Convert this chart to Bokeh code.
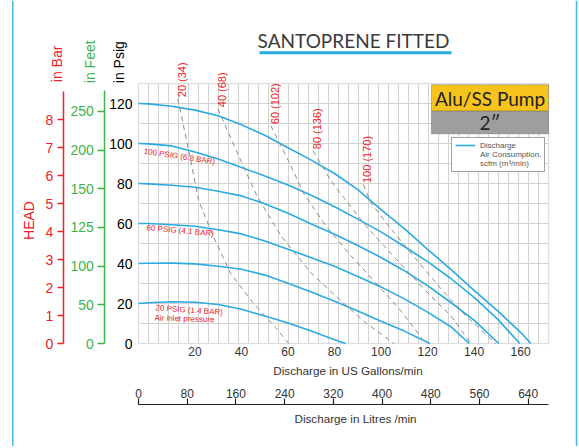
from bokeh.plotting import figure
from bokeh.models import (Range1d, LinearAxis, FixedTicker, SingleIntervalTicker,
                          Label, BoxAnnotation, Legend, LegendItem, Span)
from bokeh.embed import file_html
from bokeh.resources import INLINE

# ---------------- data (US gpm, head in psig) ----------------
flow_120 = [-4.3, 0, 10, 20, 30, 40, 50, 60, 70, 80, 90, 100, 110, 120, 130, 140, 150, 160, 164.4]
head_120 = [120.0, 119.8, 118.6, 116.7, 113.9, 109.4, 104.1, 97.9, 91.7, 85.0, 76.9, 66.9, 57.4, 47.1, 37.1, 26.6, 16.4, 5.6, 0]
flow_100 = [-4.3, 0, 10, 20, 30, 40, 50, 60, 70, 80, 90, 100, 110, 120, 130, 140, 150, 159.7]
head_100 = [100.0, 99.8, 98.8, 95.7, 92.2, 88.0, 83.8, 79.3, 74.1, 68.4, 62.2, 55.8, 48.5, 40.9, 32.5, 23.1, 12.3, 0]
flow_80 = [-4.3, 0, 10, 20, 30, 40, 50, 60, 70, 80, 90, 100, 110, 120, 130, 140, 150.6]
head_80 = [80.0, 79.8, 79.1, 78.1, 76.1, 73.8, 69.9, 65.1, 59.8, 54.6, 49.0, 43.0, 36.4, 28.9, 20.5, 11.7, 0]
flow_60 = [-4.3, 0, 10, 20, 30, 40, 50, 60, 70, 80, 90, 100, 110, 120, 130, 137.9]
head_60 = [60.0, 60.0, 59.4, 58.6, 56.9, 54.8, 51.3, 47.1, 42.9, 38.6, 33.5, 28.3, 22.3, 15.7, 8.4, 0]
flow_40 = [-4.3, 0, 10, 20, 30, 40, 50, 60, 70, 80, 90, 100, 110, 121.0]
head_40 = [40.0, 40.1, 40.2, 39.8, 38.6, 37.1, 34.2, 30.1, 25.8, 21.1, 16.2, 11.1, 6.2, 0]
flow_20 = [-4.3, 0, 10, 20, 30, 40, 50, 60, 70, 80, 84.8]
head_20 = [20.0, 20.4, 20.9, 20.6, 19.5, 17.1, 13.7, 10.2, 6.3, 1.9, 0]

# air consumption lines, scfm (m3/h)
air_20_flow = [12.6, 17.3, 21.6, 27.7, 35.4, 44.9, 54.7, 60.3]
air_20_head = [122.4, 96.4, 71.4, 53.9, 34.9, 20.4, 7.9, 0]
air_40_flow = [29.8, 39.7, 46.6, 56.9, 69.8, 82.7, 93.4, 105.5]
air_40_head = [117.4, 91.4, 73.9, 53.9, 35.4, 21.4, 10.4, 0]
air_60_flow = [52.6, 61.2, 66.8, 76.2, 87.0, 97.7, 108.5, 119.2]
air_60_head = [108.9, 88.9, 74.9, 58.9, 43.9, 30.4, 16.4, 0]
air_80_flow = [70.7, 78.4, 84.0, 93.4, 106.3, 119.2, 130.0, 138.6]
air_80_head = [96.4, 81.4, 72.9, 58.9, 42.4, 26.4, 13.9, 0]
air_100_flow = [92.4, 95.6, 104.2, 114.9, 125.7, 136.4, 149.3]
air_100_head = [79.5, 70.4, 57.4, 42.4, 27.4, 13.9, 0]
air_labels = ["20 (34)", "40 (68)", "60 (102)", "80 (136)", "100 (170)"]

gpm_ticks = [20, 40, 60, 80, 100, 120, 140, 160]
litre_ticks = [0, 80, 160, 240, 320, 400, 480, 560, 640]
psig_ticks = [0, 20, 40, 60, 80, 100, 120]
bar_ticks = [0, 1, 2, 3, 4, 5, 6, 7, 8]
feet_labels = ["0", "50", "100", "125", "150", "200", "250"]

# ---------------- style / geometry ----------------
BLUE = "#29abe2"
RED = "#ec2227"
GREEN = "#3bb34a"
GRID = "#d2d2d2"
DASH = "#8c8c8c"
PAGE_BLUE = "#45b6e6"
FONT = "Liberation Sans"
TFONT = "Lato"

W, H = 579, 446                      # canvas
GL, GT, GR, GB = 138, 83, 548, 343   # grid box on the canvas (px)
X0, X1 = -4.3, 172.0
Y0, Y1 = 0, 130
S = (GR - GL) / (X1 - X0)            # px per gpm
SY = (GB - GT) / (Y1 - Y0)           # px per psig
FEET_PX, BAR_PX, L_PX = 38.69, 27.96, 0.6089


def gx(px):
    return X0 + (px - GL) / S


def gy(py):
    return Y0 + (GB - py) / SY


p = figure(frame_width=W, frame_height=H, x_range=Range1d(gx(0), gx(W)),
           y_range=Range1d(gy(H), gy(0)), output_backend="svg", toolbar_location=None,
           title=None, min_border=0)
p.min_border_left = p.min_border_right = p.min_border_top = p.min_border_bottom = 0
p.extra_y_ranges = {"feet": Range1d((GB - H) / FEET_PX, GB / FEET_PX),
                    "bar": Range1d((GB - H) / BAR_PX, GB / BAR_PX)}
p.extra_x_ranges = {"litres": Range1d(-GL / L_PX, (W - GL) / L_PX)}
p.outline_line_color = None
p.background_fill_color = "white"
p.border_fill_color = "white"

# grid, limited to the chart box
p.xgrid.ticker = SingleIntervalTicker(interval=4.3, num_minor_ticks=0)
p.ygrid.ticker = SingleIntervalTicker(interval=10, num_minor_ticks=0)
p.grid.grid_line_color = GRID
p.grid.grid_line_width = 1
for kw in [dict(right=X0), dict(left=X1), dict(bottom=Y1), dict(top=Y0)]:
    p.add_layout(BoxAnnotation(fill_color="white", fill_alpha=1, line_color=None,
                               level="underlay", **kw))
p.add_layout(BoxAnnotation(left=X0, right=X1, bottom=Y0, top=Y1, fill_color=None, fill_alpha=0,
                           line_color="#c4c4c4", line_width=1.5, level="underlay"))

# page side rules
for px in (12.3, 576):
    p.add_layout(Span(location=gx(px), dimension="height", line_color=PAGE_BLUE, line_width=1.5))

# discharge curves
curves = [(flow_120, head_120), (flow_100, head_100), (flow_80, head_80),
          (flow_60, head_60), (flow_40, head_40), (flow_20, head_20)]
rd = None
for f, hh in curves:
    r = p.line(f, hh, line_color=BLUE, line_width=1.6)
    rd = rd or r

airs = [(air_20_flow, air_20_head), (air_40_flow, air_40_head), (air_60_flow, air_60_head),
        (air_80_flow, air_80_head), (air_100_flow, air_100_head)]
for (f, hh), t in zip(airs, air_labels):
    p.line(f, hh, line_color=DASH, line_width=1, line_dash="5 4")
    p.add_layout(Label(x=f[0], y=hh[0], text=t, angle=90, angle_units="deg",
                       text_align="left", text_baseline="middle", x_offset=4, y_offset=1.5,
                       text_color=RED, text_font=FONT, text_font_size="11px"))

for px, py, t, a in [(143.3, 150.7, "100 PSIG (6.8 BAR)", -8.4), (146, 227.2, "60 PSIG (4.1 BAR)", -5.0),
                     (155, 307.3, "20 PSIG (1.4 BAR)", -3.9), (154, 317.5, "Air inlet pressure", -1.5)]:
    p.add_layout(Label(x=gx(px), y=gy(py), text=t, angle=a, angle_units="deg", text_align="left",
                       text_baseline="middle", text_color=RED, text_font=FONT, text_font_size="8px"))

# ---------------- axes ----------------
ax = p.yaxis[0]                      # psig
ax.fixed_location = X0
ax.ticker = FixedTicker(ticks=psig_ticks)
ax.axis_line_color = None
ax.major_tick_line_color = None
ax.major_tick_out = 0
ax.major_tick_in = 0
ax.minor_tick_line_color = None
ax.major_label_text_font = FONT
ax.major_label_text_font_size = "14px"
ax.major_label_text_color = "black"
ax.major_label_standoff = 6

feet_axis = LinearAxis(y_range_name="feet", fixed_location=gx(104.3),
                       ticker=FixedTicker(ticks=list(range(len(feet_labels)))),
                       major_label_overrides={i: s for i, s in enumerate(feet_labels)},
                       bounds=(0, 6.53), axis_line_color=GREEN, axis_line_width=1.5,
                       major_tick_line_color=GREEN, major_tick_line_width=1.5,
                       major_tick_out=7, major_tick_in=0, minor_tick_line_color=None,
                       major_label_text_color=GREEN, major_label_text_font=FONT,
                       major_label_text_font_size="14px", major_label_standoff=4)
p.add_layout(feet_axis, "left")

bar_axis = LinearAxis(y_range_name="bar", fixed_location=gx(62.7),
                      ticker=FixedTicker(ticks=bar_ticks), bounds=(0, 9),
                      axis_line_color=RED, axis_line_width=1.5,
                      major_tick_line_color=RED, major_tick_line_width=1.5,
                      major_tick_out=6, major_tick_in=0, minor_tick_line_color=None,
                      major_label_text_color=RED, major_label_text_font=FONT,
                      major_label_text_font_size="14px", major_label_standoff=4)
p.add_layout(bar_axis, "left")

xa = p.xaxis[0]                      # US gpm
xa.fixed_location = Y0
xa.ticker = FixedTicker(ticks=gpm_ticks)
xa.axis_line_color = None
xa.major_tick_line_color = None
xa.major_tick_out = 0
xa.major_tick_in = 0
xa.minor_tick_line_color = None
xa.major_label_text_font = FONT
xa.major_label_text_font_size = "12px"
xa.major_label_text_color = "#333333"
xa.major_label_standoff = 3

litres_axis = LinearAxis(x_range_name="litres", fixed_location=gy(404),
                         ticker=FixedTicker(ticks=litre_ticks), bounds=(0, (GR - GL) / L_PX),
                         axis_line_color="#222222", axis_line_width=1.2,
                         major_tick_line_color="#222222", major_tick_line_width=1.2,
                         major_tick_out=6, major_tick_in=0, minor_tick_line_color=None,
                         major_label_text_font=FONT, major_label_text_font_size="12px",
                         major_label_text_color="#333333", major_label_standoff=1)
p.add_layout(litres_axis, "above")

# axis captions
for px, py, t, c in [(56.7, 81.7, "in Bar", RED), (89.3, 82.7, "in Feet", GREEN),
                     (118.3, 82.7, "in Psig", "black")]:
    p.add_layout(Label(x=gx(px), y=gy(py), text=t, angle=90, angle_units="deg", text_align="left",
                       text_baseline="middle", text_color=c, text_font=FONT, text_font_size="14px"))
p.add_layout(Label(x=gx(28.8), y=gy(220), text="HEAD", angle=90, angle_units="deg",
                   text_align="center", text_baseline="middle", text_color=RED,
                   text_font=FONT, text_font_size="14px"))
p.add_layout(Label(x=gx(347.5), y=gy(370), text="Discharge in US Gallons/min", text_align="center",
                   text_baseline="middle", text_color="#333333", text_font=FONT,
                   text_font_size="11.7px"))
p.add_layout(Label(x=gx(355), y=gy(418.3), text="Discharge in Litres /min", text_align="center",
                   text_baseline="middle", text_color="#333333", text_font=FONT,
                   text_font_size="11.7px"))

# title
p.add_layout(Label(x=gx(353), y=gy(40), text="SANTOPRENE FITTED", text_align="center",
                   text_baseline="middle", text_font=TFONT, text_font_size="19px",
                   text_color="#3a3a3a"))
p.add_layout(BoxAnnotation(left=gx(259), right=gx(451), bottom=gy(53.8), top=gy(50.8),
                           fill_color=BLUE, fill_alpha=1, line_color=None))

# pump boxes
p.add_layout(BoxAnnotation(left=gx(431), right=X1, bottom=gy(110.7), top=gy(84.3),
                           fill_color="#f6c41c", fill_alpha=1, line_color="#333333", line_width=1))
p.add_layout(BoxAnnotation(left=gx(431), right=X1, bottom=gy(133.3), top=gy(110.7),
                           fill_color="#9e9e9e", fill_alpha=1, line_color="#333333", line_width=1))
p.add_layout(Label(x=gx(489.5), y=gy(97.5), text="Alu/SS Pump", text_align="center",
                   text_baseline="middle", text_font=TFONT, text_font_size="19px",
                   text_color="#222222"))
p.add_layout(Label(x=gx(489.5), y=gy(122), text="2\u2033", text_align="center",
                   text_baseline="middle", text_font=TFONT, text_font_size="19px",
                   text_color="#222222"))

# legend
r_air = p.line(x=[], y=[], line_color="black", line_dash="dotted", line_width=1.2)
legend = Legend(items=[LegendItem(label="Discharge", renderers=[rd]),
                       LegendItem(label="Air Consumption,\nscfm (m\u00b3/min)", renderers=[r_air])],
                location=(451, H - 171.7), border_line_color="#444444", border_line_width=1,
                background_fill_color="white", background_fill_alpha=1,
                padding=3, spacing=0, margin=0, label_text_font=FONT,
                label_text_font_size="8px", label_text_color="#555555", label_standoff=5,
                label_height=8, glyph_width=20, glyph_height=8, label_text_line_height=1.05)
p.add_layout(legend)

open("out.html", "w").write(file_html(p, INLINE))
